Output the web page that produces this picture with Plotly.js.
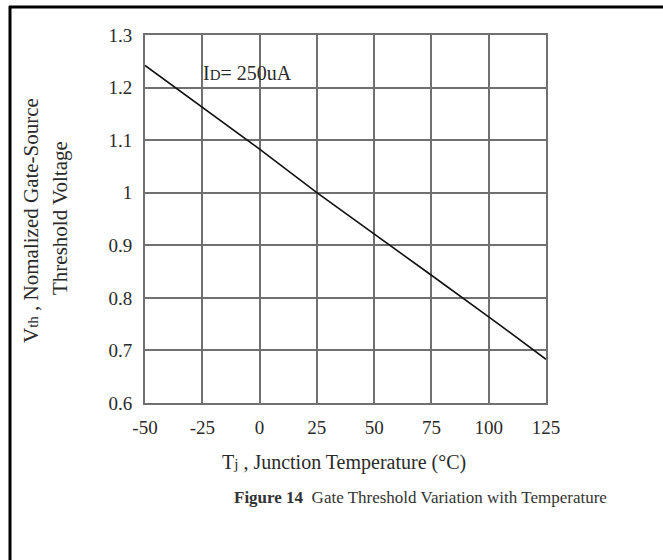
<!DOCTYPE html>
<html>
<head>
<meta charset="utf-8">
<script src="https://cdn.plot.ly/plotly-3.0.1.min.js"></script>
<style>
html,body{margin:0;padding:0;background:#fff;}
#chart{width:663px;height:560px;}
</style>
</head>
<body>
<div id="chart"></div>
<script>
// Data
const tempC = [-50, -25, 0, 25, 50, 75, 100, 125];
const vthNorm = [1.242, 1.163, 1.083, 1.0, 0.922, 0.843, 0.764, 0.683];
const xTickVals = [-50, -25, 0, 25, 50, 75, 100, 125];
const xTickText = ['-50', '-25', '0', '25', '50', '75', '100', '125'];
const yTickVals = [0.6, 0.7, 0.8, 0.9, 1.0, 1.1, 1.2, 1.3];
const yTickText = ['0.6', '0.7', '0.8', '0.9', '1', '1.1', '1.2', '1.3'];

const serif = 'Liberation Serif, Times New Roman, serif';
const gridCol = '#707070';
const textCol = '#2a2a2a';

const trace = {
  x: tempC, y: vthNorm, type: 'scatter', mode: 'lines',
  line: {color: '#111', width: 1.6}, hoverinfo: 'skip', showlegend: false
};

const layout = {
  width: 663, height: 560,
  margin: {l: 145, r: 117, t: 35, b: 157},
  paper_bgcolor: '#fff', plot_bgcolor: '#fff',
  font: {family: serif, color: textCol, size: 18},
  xaxis: {
    range: [-50, 125], tickvals: xTickVals, ticktext: xTickText,
    showgrid: true, gridcolor: gridCol, gridwidth: 2,
    showline: true, linecolor: gridCol, linewidth: 2, mirror: true,
    zeroline: false, ticks: '', ticklabelstandoff: 6,
    tickfont: {family: serif, size: 19, color: textCol}
  },
  yaxis: {
    range: [0.6, 1.3], tickvals: yTickVals, ticktext: yTickText,
    showgrid: true, gridcolor: gridCol, gridwidth: 2,
    showline: true, linecolor: gridCol, linewidth: 2, mirror: true,
    zeroline: false, ticks: '', ticklabelstandoff: 7,
    tickfont: {family: serif, size: 19, color: textCol}
  },
  annotations: [
    {xref: 'x', yref: 'y', x: -25.5, y: 1.228, xanchor: 'left', yanchor: 'middle',
     text: 'I<span style="font-size:15px">D</span>= 250uA', showarrow: false,
     font: {family: serif, size: 20, color: textCol}},
    {xref: 'paper', yref: 'paper', x: (31 - 145) / 401, y: (403 - 221) / 368,
     xanchor: 'center', yanchor: 'middle', textangle: -90,
     text: 'V<span style="font-size:15px">th</span> , Nomalized Gate-Source', showarrow: false,
     font: {family: serif, size: 21, color: textCol}},
    {xref: 'paper', yref: 'paper', x: (60 - 145) / 401, y: (403 - 218) / 368,
     xanchor: 'center', yanchor: 'middle', textangle: -90,
     text: 'Threshold Voltage', showarrow: false,
     font: {family: serif, size: 21, color: textCol}},
    {xref: 'paper', yref: 'paper', x: (344 - 145) / 401, y: (403 - 462) / 368,
     xanchor: 'center', yanchor: 'middle',
     text: 'T<span style="font-size:15px">j</span> , Junction Temperature (°C)', showarrow: false,
     font: {family: serif, size: 20, color: textCol}},
    {xref: 'paper', yref: 'paper', x: (420 - 145) / 401, y: (403 - 497) / 368,
     xanchor: 'center', yanchor: 'middle',
     text: '<b>Figure 14</b>  Gate Threshold Variation with Temperature', showarrow: false,
     font: {family: serif, size: 17, color: '#333'}}
  ],
  shapes: [
    {type: 'line', xref: 'paper', yref: 'paper', x0: (9 - 145) / 401, x1: (663 - 145) / 401,
     y0: (403 - 7) / 368, y1: (403 - 7) / 368, line: {color: '#000', width: 3}},
    {type: 'line', xref: 'paper', yref: 'paper', x0: (10 - 145) / 401, x1: (10 - 145) / 401,
     y0: (403 - 6) / 368, y1: (403 - 560) / 368, line: {color: '#000', width: 3}}
  ]
};

Plotly.newPlot('chart', [trace], layout, {staticPlot: true, displayModeBar: false});
</script>
</body>
</html>
